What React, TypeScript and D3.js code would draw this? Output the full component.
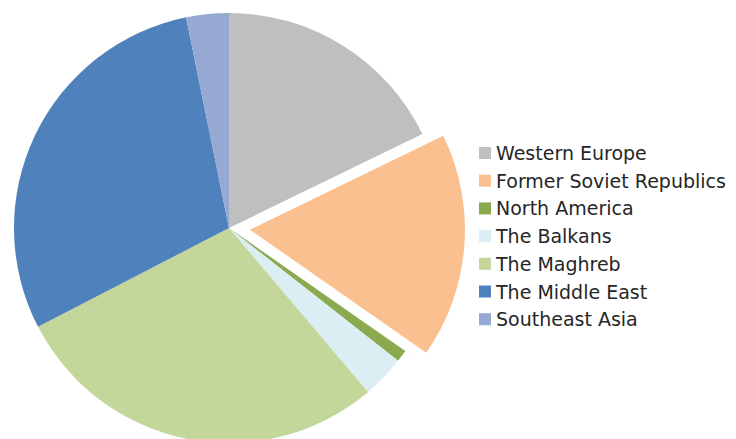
import * as React from "react";
import * as d3 from "d3";

const regions: string[] = [
    "Western Europe",
    "Former Soviet Republics",
    "North America",
    "The Balkans",
    "The Maghreb",
    "The Middle East",
    "Southeast Asia"
];
const shares: number[] = [17.8, 16.9, 0.9, 3.2, 28.6, 29.4, 3.2];
const colors: string[] = ["#BFBFBF", "#FAC090", "#8BA94E", "#DBEEF4", "#C4D79B", "#4F81BD", "#95A9D3"];
const exploded: string[] = ["Former Soviet Republics"];

interface Slice {
    name: string;
    value: number;
    color: string;
}

const width: number = 736;
const height: number = 439;
const cx: number = 221;
const cy: number = 220;
const radius: number = 215;
const explodeDist: number = 21;

export default function App(): JSX.Element {
    const ref = React.useRef<SVGSVGElement>(null);

    React.useEffect(() => {
        const svg = d3.select(ref.current);
        svg.selectAll("*").remove();

        const data: Slice[] = regions.map((name: string, i: number) => ({
            name,
            value: shares[i],
            color: colors[i]
        }));

        const pie = d3.pie<Slice>().sort(null).value((d: Slice) => d.value);
        const arc = d3.arc<d3.PieArcDatum<Slice>>().innerRadius(0).outerRadius(radius);

        const g = svg.append("g").attr("transform", `translate(${cx},${cy})`);
        g.selectAll("path")
            .data(pie(data))
            .enter().append("path")
            .attr("d", arc)
            .attr("fill", (d) => d.data.color)
            .attr("transform", (d) => {
                if (exploded.indexOf(d.data.name) < 0) {
                    return null;
                }
                const mid: number = (d.startAngle + d.endAngle) / 2;
                return `translate(${Math.sin(mid) * explodeDist},${-Math.cos(mid) * explodeDist})`;
            });

        // legend on the right, one row per region
        const legend = svg.append("g").attr("transform", "translate(471,139)");
        const rows = legend.selectAll("g")
            .data(data)
            .enter().append("g")
            .attr("transform", (d: Slice, i: number) => `translate(0,${i * 27.7})`);
        rows.append("rect")
            .attr("width", 12)
            .attr("height", 12)
            .attr("fill", (d: Slice) => d.color);
        rows.append("text")
            .attr("x", 17)
            .attr("y", 13)
            .attr("font-family", "'DejaVu Sans', sans-serif")
            .attr("font-size", 19)
            .attr("fill", "#262626")
            .text((d: Slice) => d.name);
    }, []);

    return <svg ref={ref} width={width} height={height} style={{ display: "block" }} />;
}
